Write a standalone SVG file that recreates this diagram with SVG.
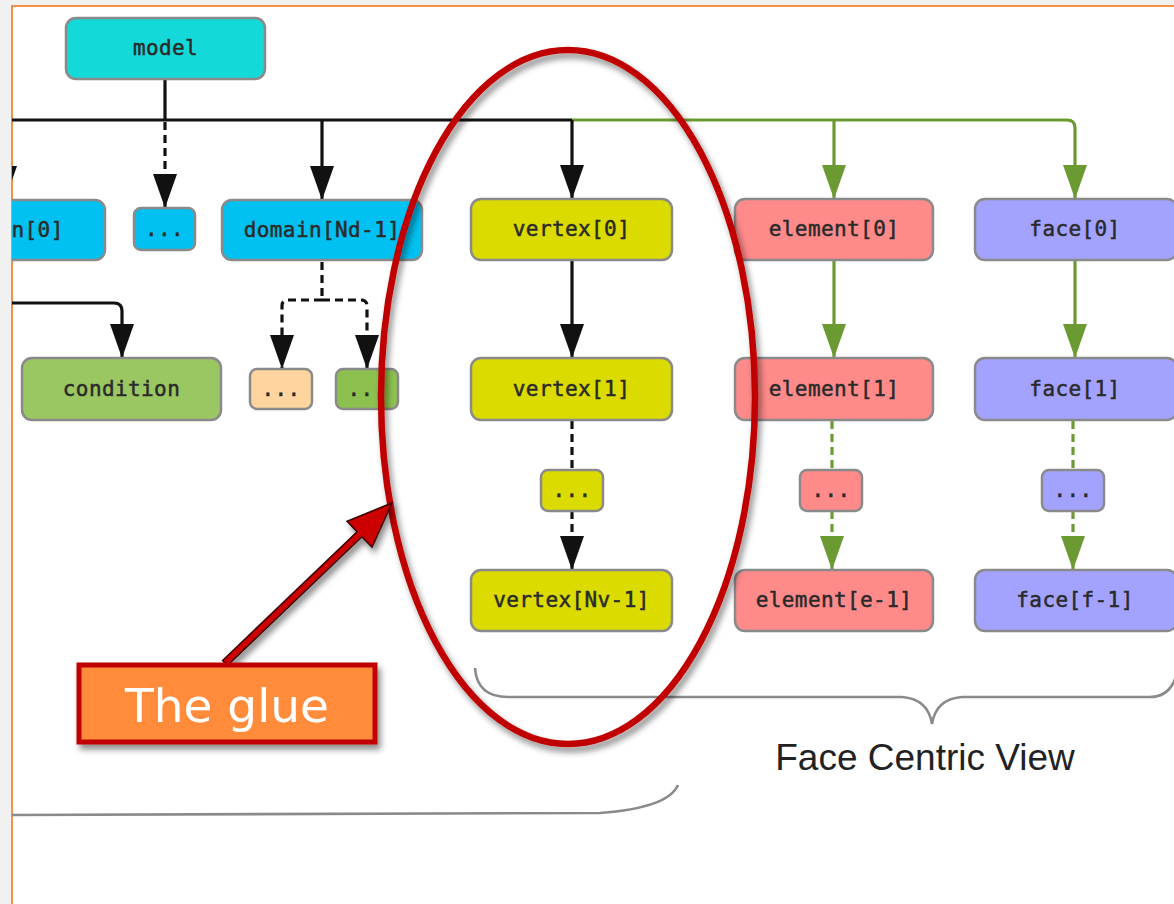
<svg xmlns="http://www.w3.org/2000/svg" width="1174" height="904" viewBox="0 0 1174 904">
  <style>
    .node rect { stroke: #8a8a8a; stroke-width: 2.5; }
    .node text { font-family: "DejaVu Sans Mono", "Liberation Mono", monospace; font-size: 21px; fill: #2a2a2a; stroke: #2a2a2a; stroke-width: 0.5; text-anchor: middle; letter-spacing: 0.4px; }
    .blk { fill: none; stroke: #111; stroke-width: 3.2; }
    .grn { fill: none; stroke: #6b9a32; stroke-width: 3.2; }
    .dash { stroke-dasharray: 8 5; }
    .brace { fill: none; stroke: #8a8a8a; stroke-width: 2.6; }
    .m-model { fill: #14d9d9; }
    .m-domain { fill: #00c1f2; }
    .m-cond { fill: #9bc763; }
    .m-orange { fill: #ffd49e; }
    .m-green { fill: #8dc14f; }
    .m-vertex { fill: #dbdb00; }
    .m-element { fill: #ff8a8a; }
    .m-face { fill: #a3a3ff; }
  </style>
  <defs>
    <clipPath id="page">
      <rect x="12" y="6" width="1162" height="898"/>
    </clipPath>
    <marker id="arrBlack" viewBox="0 0 34 24" refX="34" refY="12" markerWidth="34" markerHeight="24" markerUnits="userSpaceOnUse" orient="auto">
      <path d="M0,0 L34,12 L0,24 z" fill="#111"/>
    </marker>
    <marker id="arrGreen" viewBox="0 0 34 24" refX="34" refY="12" markerWidth="34" markerHeight="24" markerUnits="userSpaceOnUse" orient="auto">
      <path d="M0,0 L34,12 L0,24 z" fill="#6b9a32"/>
    </marker>
    <filter id="shadow" x="-20%" y="-20%" width="140%" height="140%">
      <feDropShadow dx="3" dy="5" stdDeviation="3" flood-color="#000" flood-opacity="0.45"/>
    </filter>
  </defs>

  <!-- page background and frame -->
  <rect x="0" y="0" width="1174" height="904" fill="#f1f1f1"/>
  <rect x="12" y="6" width="1164" height="900" fill="#ffffff" stroke="#f29147" stroke-width="2"/>

  <g clip-path="url(#page)">
    <!-- connectors -->
    <g id="connectors">
      <path class="blk" d="M165 79 V120"/>
      <path class="blk" d="M0 120 H572"/>
      <path class="grn" d="M572 120 H1067 Q1075 120 1075 128 V199" marker-end="url(#arrGreen)"/>
      <path class="grn" d="M834 120 V199" marker-end="url(#arrGreen)"/>
      <path class="blk" d="M5 120 V200" marker-end="url(#arrBlack)"/>
      <path class="blk dash" d="M165 122 V208" marker-end="url(#arrBlack)"/>
      <path class="blk" d="M322 120 V200" marker-end="url(#arrBlack)"/>
      <path class="blk" d="M572 120 V199" marker-end="url(#arrBlack)"/>

      <path class="blk" d="M0 303 H114 Q122 303 122 311 V358" marker-end="url(#arrBlack)"/>
      <path class="blk dash" d="M322 262 V300"/>
      <path class="blk dash" d="M322 300 H288 Q282 300 282 306 V369" marker-end="url(#arrBlack)"/>
      <path class="blk dash" d="M322 300 H361 Q367 300 367 306 V369" marker-end="url(#arrBlack)"/>

      <path class="blk" d="M572 260 V358" marker-end="url(#arrBlack)"/>
      <path class="blk dash" d="M572 421 V470"/>
      <path class="blk dash" d="M572 511 V570" marker-end="url(#arrBlack)"/>

      <path class="grn" d="M834 260 V358" marker-end="url(#arrGreen)"/>
      <path class="grn dash" d="M832 421 V470"/>
      <path class="grn dash" d="M832 511 V570" marker-end="url(#arrGreen)"/>

      <path class="grn" d="M1075 260 V358" marker-end="url(#arrGreen)"/>
      <path class="grn dash" d="M1073 421 V470"/>
      <path class="grn dash" d="M1073 511 V570" marker-end="url(#arrGreen)"/>
    </g>

    <!-- nodes -->
    <g id="model" class="node"><rect class="m-model" x="66" y="18" width="199" height="61" rx="10"/><text x="165.5" y="55">model</text></g>

    <g id="domain0" class="node"><rect class="m-domain" x="-95" y="200" width="200" height="60" rx="10"/><text x="5" y="237">domain[0]</text></g>
    <g id="domainDots" class="node"><rect class="m-domain" x="134" y="208" width="61" height="42" rx="7"/><text x="164.5" y="236">...</text></g>
    <g id="domainLast" class="node"><rect class="m-domain" x="222" y="200" width="200" height="60" rx="10"/><text x="322" y="237">domain[Nd-1]</text></g>

    <g id="condition" class="node"><rect class="m-cond" x="22" y="358" width="199" height="62" rx="10"/><text x="121.5" y="396">condition</text></g>
    <g id="dotsOrange" class="node"><rect class="m-orange" x="250" y="369" width="62" height="40" rx="7"/><text x="281" y="396">...</text></g>
    <g id="dotsGreen" class="node"><rect class="m-green" x="336" y="369" width="62" height="40" rx="7"/><text x="367" y="396">...</text></g>

    <g id="vertex0" class="node"><rect class="m-vertex" x="471" y="199" width="201" height="61" rx="10"/><text x="571.5" y="236">vertex[0]</text></g>
    <g id="vertex1" class="node"><rect class="m-vertex" x="471" y="358" width="201" height="62" rx="10"/><text x="571.5" y="396">vertex[1]</text></g>
    <g id="vertexDots" class="node"><rect class="m-vertex" x="541" y="470" width="62" height="41" rx="7"/><text x="572" y="497">...</text></g>
    <g id="vertexLast" class="node"><rect class="m-vertex" x="471" y="570" width="201" height="61" rx="10"/><text x="571.5" y="607">vertex[Nv-1]</text></g>

    <g id="element0" class="node"><rect class="m-element" x="735" y="199" width="198" height="61" rx="10"/><text x="834" y="236">element[0]</text></g>
    <g id="element1" class="node"><rect class="m-element" x="735" y="358" width="198" height="62" rx="10"/><text x="834" y="396">element[1]</text></g>
    <g id="elementDots" class="node"><rect class="m-element" x="800" y="470" width="62" height="41" rx="7"/><text x="831" y="497">...</text></g>
    <g id="elementLast" class="node"><rect class="m-element" x="735" y="570" width="198" height="61" rx="10"/><text x="834" y="607">element[e-1]</text></g>

    <g id="face0" class="node"><rect class="m-face" x="975" y="199" width="202" height="61" rx="10"/><text x="1075" y="236">face[0]</text></g>
    <g id="face1" class="node"><rect class="m-face" x="975" y="358" width="202" height="62" rx="10"/><text x="1075" y="396">face[1]</text></g>
    <g id="faceDots" class="node"><rect class="m-face" x="1042" y="470" width="62" height="41" rx="7"/><text x="1073" y="497">...</text></g>
    <g id="faceLast" class="node"><rect class="m-face" x="975" y="570" width="202" height="61" rx="10"/><text x="1075" y="607">face[f-1]</text></g>

    <!-- grouping braces -->
    <g id="braces">
      <path class="brace" d="M475 668 Q477 697 508 697 L902 697 Q928 699 932 724 Q936 699 962 697 L1150 697 Q1173 697 1178 668"/>
      <path class="brace" d="M0 815 L600 813 Q668 808 678 785"/>
      <text x="925" y="770" font-family="Liberation Sans, Arial, sans-serif" font-size="37" fill="#222" text-anchor="middle">Face Centric View</text>
    </g>

    <!-- highlight ellipse -->
    <g id="highlight" filter="url(#shadow)">
      <ellipse cx="568" cy="397" rx="187" ry="347" fill="none" stroke="#c00000" stroke-width="6.5"/>
    </g>

    <!-- callout -->
    <g id="callout" filter="url(#shadow)">
      <polygon points="222.6,660.5 357.1,531.7 347,521.2 392,503 372,547.2 361.9,536.7 227.4,665.5" fill="#cc0000" stroke="#3a0000" stroke-width="1.5" stroke-linejoin="miter"/>
      <rect x="79" y="665" width="296" height="77" fill="#ff8b3a" stroke="#c00000" stroke-width="5"/>
      <text x="227" y="722" font-family="DejaVu Sans, Verdana, sans-serif" font-size="47" fill="#ffffff" text-anchor="middle">The glue</text>
    </g>
  </g>
</svg>
